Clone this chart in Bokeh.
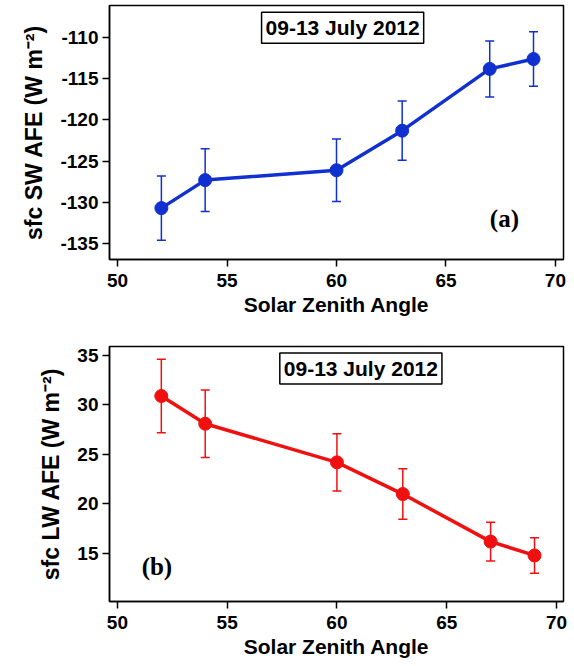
from bokeh.plotting import figure
from bokeh.layouts import column
from bokeh.models import (ColumnDataSource, Whisker, TeeHead, Label, Range1d, FixedTicker,
                          PrintfTickFormatter)
from bokeh.embed import file_html
from bokeh.resources import INLINE

# ---- data ----
sza = [52, 54, 60, 63, 67, 69]
sw_afe = [-130.7, -127.3, -126.1, -121.3, -113.8, -112.6]
sw_err = [3.9, 3.8, 3.8, 3.6, 3.4, 3.3]
lw_afe = [30.9, 28.1, 24.2, 21.0, 16.2, 14.8]
lw_err = [3.7, 3.4, 2.9, 2.55, 1.95, 1.8]

x_ticks = [50, 55, 60, 65, 70]
sw_ticks = [-135, -130, -125, -120, -115, -110]
lw_ticks = [15, 20, 25, 30, 35]

date_text = "09-13 July 2012"
x_label = "Solar Zenith Angle"
sw_label = "sfc SW AFE (W m\u207b\u00b2)"
lw_label = "sfc LW AFE (W m\u207b\u00b2)"

BLUE = "#1030d0"
RED = "#f01010"
FONT = "Liberation Sans"


def make_panel(y, err, color, x_range, y_range, y_ticks, y_label, height, top, bottom, left,
               box_xy, tag, tag_xy):
    p = figure(width=574, height=height, output_backend="svg", toolbar_location=None,
               x_range=Range1d(*x_range), y_range=Range1d(*y_range))
    p.min_border_left = left
    p.min_border_right = 11
    p.min_border_top = top
    p.min_border_bottom = bottom
    p.outline_line_color = "black"
    p.outline_line_width = 1.5
    p.outline_line_alpha = 1.0
    p.grid.visible = False
    p.background_fill_color = "white"
    p.border_fill_color = "white"

    for ax in (p.xaxis[0], p.yaxis[0]):
        ax.axis_line_color = "black"
        ax.axis_line_width = 1.5
        ax.major_tick_line_color = "black"
        ax.major_tick_line_width = 1.5
        ax.major_tick_out = 7
        ax.major_tick_in = 0
        ax.minor_tick_line_color = None
        ax.major_label_text_font = FONT
        ax.major_label_text_font_style = "bold"
        ax.major_label_text_font_size = "19px"
        ax.major_label_text_color = "black"
        ax.axis_label_text_font = FONT
        ax.axis_label_text_font_style = "bold"
        ax.axis_label_text_color = "black"
        ax.formatter = PrintfTickFormatter(format="%d")

    p.xaxis.ticker = FixedTicker(ticks=x_ticks)
    p.yaxis.ticker = FixedTicker(ticks=y_ticks)
    p.xaxis.major_label_standoff = 7
    p.yaxis.major_label_standoff = 4
    p.xaxis.axis_label = x_label
    p.xaxis.axis_label_text_font_size = "21px"
    p.xaxis.axis_label_standoff = 3
    p.yaxis.axis_label = y_label
    p.yaxis.axis_label_text_font_size = "23px"
    p.yaxis.axis_label_standoff = 10

    upper = [v + e for v, e in zip(y, err)]
    lower = [v - e for v, e in zip(y, err)]
    src = ColumnDataSource(dict(x=sza, y=y, upper=upper, lower=lower))

    w = Whisker(source=src, base="x", upper="upper", lower="lower",
                line_color=color, line_width=1.5, level="underlay",
                upper_head=TeeHead(size=9, line_color=color, line_width=1.5),
                lower_head=TeeHead(size=9, line_color=color, line_width=1.5))
    p.add_layout(w)
    p.line("x", "y", source=src, line_color=color, line_width=3.5)
    p.scatter("x", "y", source=src, size=13, fill_color=color, line_color=color)

    box = Label(x=box_xy[0], y=box_xy[1], text=date_text, text_align="center",
                text_baseline="middle", text_font=FONT, text_font_style="bold",
                text_font_size="21px", text_color="black",
                border_line_color="black", border_line_width=1.5,
                background_fill_color="white", padding=4)
    p.add_layout(box)
    lab = Label(x=tag_xy[0], y=tag_xy[1], text=tag, text_align="center",
                text_baseline="middle", text_font="Liberation Serif",
                text_font_style="bold", text_font_size="25px", text_color="black")
    p.add_layout(lab)
    return p


p1 = make_panel(sw_afe, sw_err, BLUE, (49.63, 70.37), (-136.94, -106.1), sw_ticks, sw_label,
                height=330, top=5, bottom=71, left=109,
                box_xy=(60.28, -108.8), tag="(a)", tag_xy=(67.67, -131.97))
p2 = make_panel(lw_afe, lw_err, RED, (49.64, 70.32), (10.15, 35.9), lw_ticks, lw_label,
                height=336, top=16, bottom=65, left=107,
                box_xy=(61.09, 33.69), tag="(b)", tag_xy=(51.8, 13.7))

layout = column(p1, p2, spacing=0)
open("out.html", "w").write(file_html(layout, INLINE))
